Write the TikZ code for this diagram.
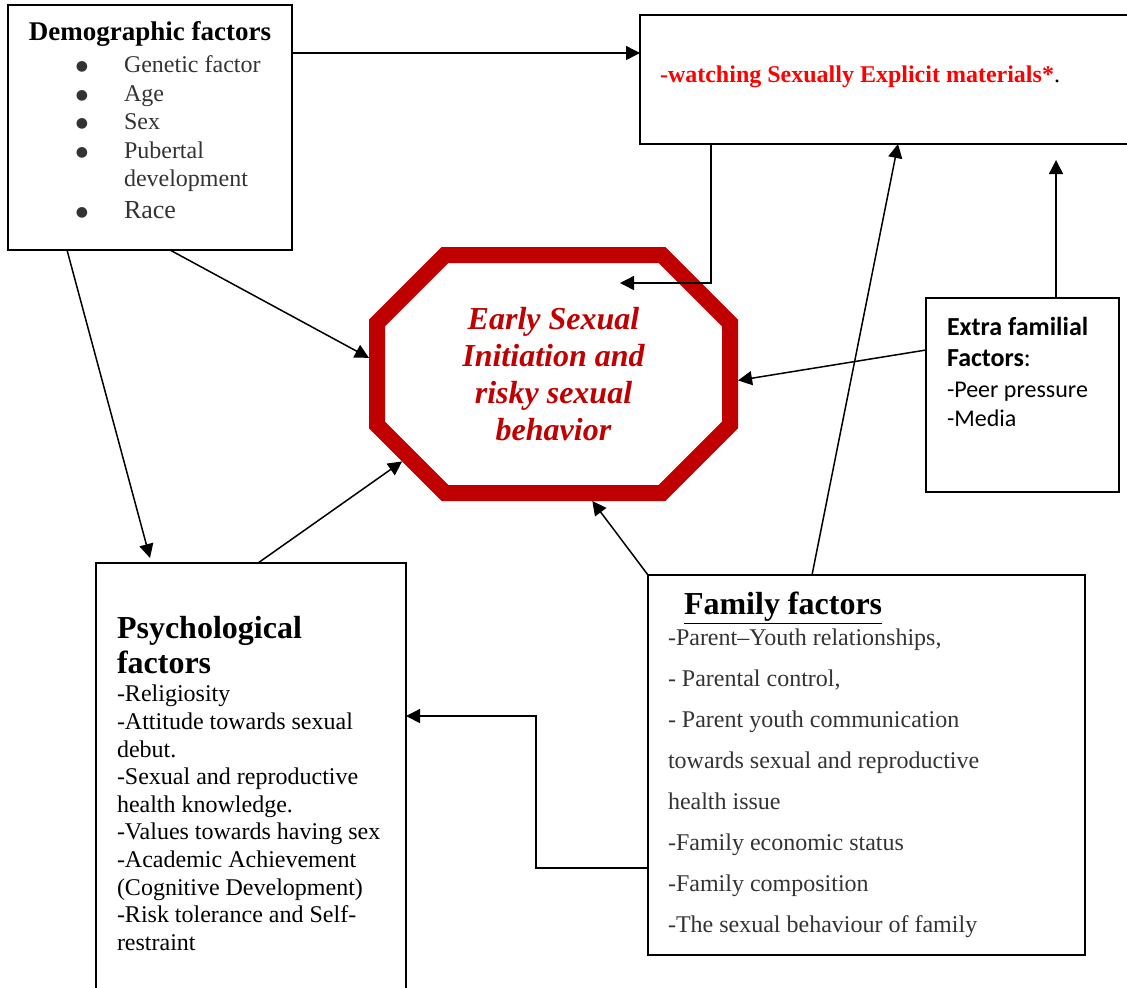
\documentclass[tikz,border=0pt]{standalone}
\usepackage{fontspec}
\setmainfont{Liberation Serif}
\newfontfamily\calibri{Carlito}
\newfontfamily\dejavu{DejaVu Sans}
\usetikzlibrary{arrows.meta,shapes.misc}

\definecolor{octred}{HTML}{C00000}
\definecolor{seered}{HTML}{FF0000}

% text block inside a framed box: height, width, body
\newcommand{\boxbody}[3]{\begin{minipage}[t][#1][t]{#2}\raggedright#3\end{minipage}}
\newcommand{\bitem}[1]{\hspace*{37pt}\makebox[0pt]{\raisebox{1pt}{\dejavu\fontsize{7}{8}\selectfont ●}}\hspace*{21pt}#1\par}

\tikzset{
  factorbox/.style={draw, line width=0.9pt, inner sep=0pt, outer sep=0pt, anchor=north west},
  octo/.style={chamfered rectangle, chamfered rectangle xsep=17pt, chamfered rectangle ysep=17pt,
    draw=octred, line width=8pt, minimum width=176.5pt, minimum height=119pt,
    text=octred, align=center, font=\fontsize{16}{18.5}\selectfont\bfseries\itshape},
  arr/.style={line width=0.75pt, -{Triangle[length=7pt,width=7pt]}}
}

\begin{document}
\begin{tikzpicture}[x=0.5pt, y=-0.5pt]
  \useasboundingbox (0,0) rectangle (1127,987);

  % the boxes
  \node[factorbox] (demo) at (8,5) {\boxbody{122.5pt}{142pt}{%
    {\centering\fontsize{13.5}{16}\selectfont\bfseries\rule{0pt}{17.5pt}Demographic factors\par}
    \fontsize{12}{14.25}\selectfont\color{black!80}\vspace{2.1pt}
    \bitem{Genetic factor}\bitem{Age}\bitem{Sex}\bitem{Pubertal}
    \hspace*{58pt}development\par
    \vspace{1.5pt}{\fontsize{13}{14.25}\selectfont\bitem{Race}}}};

  \node[factorbox] (watch) at (640,15) {\boxbody{64.5pt}{247.5pt}{\leftskip=10pt
    \fontsize{12}{14}\selectfont\rule{0pt}{33.5pt}{\bfseries\color{seered}-watching Sexually Explicit materials*}.\par}};

  \node[octo] (oct) at (553.5,374) {Early Sexual\\Initiation and\\risky sexual\\behavior};

  \node[factorbox] (xtra) at (926,298) {\boxbody{97pt}{96.5pt}{\leftskip=10.5pt\calibri
    \fontsize{13}{15.8}\selectfont\rule{0pt}{18.5pt}\textbf{Extra familial}\\\textbf{Factors}:\par
    \fontsize{12}{14.35}\selectfont\vspace{1.3pt}-Peer pressure\\-Media\par}};

  \node[factorbox] (psy) at (96,563) {\boxbody{218.5pt}{155pt}{\leftskip=10.5pt
    \fontsize{16}{17.5}\selectfont\bfseries\rule{0pt}{37.7pt}Psychological\\factors\par
    \fontsize{12}{13.8}\selectfont\mdseries\vspace{0.4pt}
    -Religiosity\\-Attitude towards sexual\\debut.\\-Sexual and reproductive\\health knowledge.\\-Values towards having sex\\-Academic Achievement\\(Cognitive Development)\\-Risk tolerance and Self-\\restraint\par}};

  \node[factorbox] (fam) at (648,575) {\boxbody{190pt}{218.5pt}{\leftskip=10pt
    \fontsize{16}{18}\selectfont\bfseries\hspace*{8pt}\rule{0pt}{19.5pt}\underline{Family factors}\par
    \fontsize{12}{20.55}\selectfont\mdseries\color{black!80}\vspace{-5.05pt}
    -Parent--Youth relationships,\par
    - Parental control,\par
    - Parent youth communication\par
    towards sexual and reproductive\par
    health issue\par
    -Family economic status\par
    -Family composition\par
    -The sexual behaviour of family\par}};

  % free arrow ends
  \coordinate (xtip) at (1056,160);
  \coordinate (wtip) at (620,283);

  % links
  \draw[arr] ([yshift=-24pt]demo.north east) -- ([yshift=-19pt]watch.north west);
  \draw[arr] ([xshift=81pt]demo.south west) -- (oct.175);
  \draw[arr] ([xshift=29.5pt]demo.south west) -- ([xshift=27pt,yshift=2.5pt]psy.north west);
  \draw[arr] ([xshift=81pt]psy.north west) -- (oct.210);
  \draw[arr] (fam.north west) -- (oct.287);
  \draw[arr] ([xshift=82pt]fam.north west) -- ([xshift=129pt]watch.south west);
  \draw[arr] ([yshift=-26pt]xtra.north west) -- (oct.358);
  \draw[arr] ([xshift=65pt]xtra.north west) -- (xtip);
  \draw[arr] ([xshift=35.5pt]watch.south west) |- (wtip);
  \draw[arr] ([yshift=-146.5pt]fam.north west) -- ++(-112,0) |- ([yshift=-76.5pt]psy.north east);
\end{tikzpicture}
\end{document}
